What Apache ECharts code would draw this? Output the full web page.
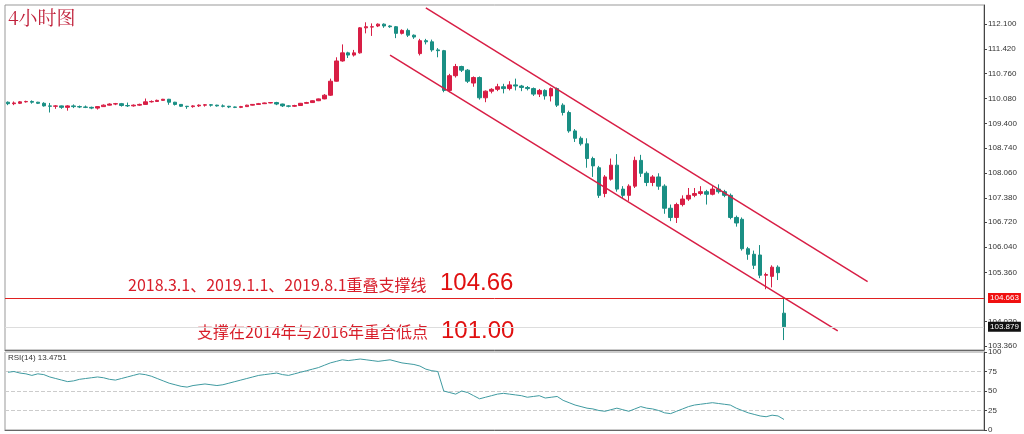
<!DOCTYPE html>
<html><head><meta charset="utf-8">
<script src="https://cdn.jsdelivr.net/npm/echarts@6/dist/echarts.min.js"></script>
<style>html,body{margin:0;padding:0;background:#fff}#c{width:1024px;height:434px}</style>
</head><body><div id="c"></div>
<script>
// candle data: [open, close, low, high]
const candles = [
[109.98,109.94,109.90,110.00],[109.94,109.96,109.90,110.00],[109.95,109.99,109.93,110.01],[109.99,110.00,109.97,110.02],
[110.00,109.98,109.94,110.03],[109.98,109.95,109.93,109.99],[109.95,109.88,109.86,109.98],[109.88,109.87,109.70,109.96],
[109.87,109.88,109.80,109.90],[109.88,109.84,109.80,109.89],[109.84,109.88,109.75,109.90],[109.88,109.86,109.82,109.92],
[109.86,109.85,109.82,109.89],[109.85,109.84,109.82,109.89],[109.84,109.82,109.79,109.86],[109.82,109.86,109.78,109.87],
[109.86,109.90,109.85,109.92],[109.90,109.93,109.89,109.95],[109.93,109.94,109.90,109.96],[109.94,109.89,109.86,109.96],
[109.89,109.88,109.85,109.97],[109.88,109.90,109.86,109.92],[109.90,109.92,109.88,109.94],[109.92,109.99,109.91,110.08],
[109.99,110.00,109.97,110.03],[110.00,110.03,109.99,110.05],[110.03,110.06,110.02,110.07],[110.06,109.98,109.91,110.07],
[109.98,109.92,109.89,109.99],[109.92,109.87,109.85,109.93],[109.87,109.86,109.80,109.88],[109.86,109.88,109.83,109.90],
[109.88,109.90,109.85,109.92],[109.90,109.91,109.86,109.93],[109.91,109.90,109.86,109.93],[109.90,109.88,109.86,109.91],
[109.88,109.87,109.84,109.92],[109.87,109.85,109.82,109.88],[109.85,109.84,109.82,109.86],[109.84,109.86,109.82,109.88],
[109.86,109.90,109.85,109.91],[109.90,109.92,109.89,109.93],[109.92,109.94,109.91,109.96],[109.94,109.96,109.93,109.97],
[109.96,109.97,109.95,109.98],[109.97,109.93,109.90,109.99],[109.93,109.88,109.85,109.94],[109.88,109.87,109.84,109.90],
[109.87,109.89,109.85,109.91],[109.89,109.95,109.88,109.96],[109.95,109.97,109.94,109.99],[109.97,110.02,109.96,110.03],
[110.02,110.07,110.01,110.08],[110.07,110.17,110.06,110.20],[110.17,110.55,110.15,110.62],[110.55,111.10,110.54,111.20],
[111.10,111.32,111.08,111.55],[111.32,111.26,111.18,111.35],[111.26,111.32,111.22,111.40],[111.32,112.00,111.30,112.02],
[112.00,112.03,111.85,112.15],[112.02,112.03,111.78,112.12],[112.05,112.10,112.02,112.12],[112.10,112.05,112.00,112.12],
[112.05,112.03,112.00,112.07],[112.03,111.85,111.72,112.05],[111.85,111.93,111.82,111.96],[111.93,111.80,111.75,111.98],
[111.80,111.75,111.70,111.82],[111.30,111.65,111.25,111.70],[111.65,111.62,111.55,111.70],[111.62,111.40,111.35,111.68],
[111.40,111.38,111.20,111.45],[111.38,110.30,110.25,111.40],[110.30,110.70,110.25,110.75],[110.70,110.95,110.65,111.02],
[110.95,110.85,110.80,110.97],[110.85,110.55,110.50,110.88],[110.50,110.65,110.40,110.68],[110.65,110.10,110.05,110.68],
[110.10,110.28,109.98,110.30],[110.28,110.33,110.22,110.36],[110.33,110.40,110.28,110.48],[110.40,110.35,110.22,110.48],
[110.35,110.45,110.30,110.55],[110.45,110.42,110.30,110.62],[110.42,110.38,110.28,110.45],[110.38,110.35,110.30,110.42],
[110.35,110.20,110.15,110.38],[110.20,110.30,110.12,110.34],[110.30,110.15,110.05,110.33],[110.15,110.35,110.00,110.38],
[110.35,109.90,109.85,110.38],[109.90,109.70,109.62,109.95],[109.70,109.20,109.15,109.75],[109.20,109.00,108.90,109.25],
[109.00,108.85,108.80,109.05],[108.85,108.45,108.20,109.00],[108.45,108.25,107.95,108.50],[108.20,107.45,107.38,108.25],
[107.50,107.95,107.40,108.00],[107.89,108.27,107.85,108.45],[108.27,107.62,107.55,108.57],[107.62,107.45,107.35,107.70],
[107.45,107.70,107.30,107.75],[107.70,108.40,107.65,108.50],[108.40,108.05,107.95,108.55],[108.05,107.80,107.70,108.10],
[107.80,107.95,107.70,108.00],[107.95,107.70,107.60,108.05],[107.70,107.10,106.95,107.75],[107.10,106.85,106.75,107.20],
[106.85,107.20,106.70,107.25],[107.20,107.35,107.15,107.45],[107.35,107.45,107.30,107.65],[107.45,107.50,107.40,107.65],
[107.50,107.55,107.45,107.70],[107.55,107.48,107.20,107.60],[107.48,107.62,107.45,107.70],[107.62,107.55,107.50,107.75],
[107.55,107.45,107.40,107.60],[107.45,106.85,106.80,107.50],[106.85,106.70,106.60,106.90],[106.80,106.00,105.95,106.85],
[106.00,105.85,105.70,106.05],[105.85,105.55,105.45,105.95],[105.83,105.28,105.20,106.10],[105.28,105.30,104.90,105.35],
[105.25,105.50,104.95,105.55],[105.50,105.35,105.15,105.55],[104.25,103.88,103.52,104.66]
];
const rsi = [
74,75,73,72,70,72,71,68,66,64,62,63,65,66,67,68,67,65,64,66,
68,70,72,71,69,66,63,60,58,56,55,57,58,59,58,57,58,60,62,64,
66,68,70,71,72,73,71,70,72,74,76,78,80,83,86,
88,90,89,90,91,90,89,88,89,90,88,86,85,84,82,78,76,75,
50,48,46,50,48,44,40,42,44,46,47,46,45,44,42,43,44,41,42,43,
38,35,32,30,28,27,25,24,26,28,26,24,27,30,28,27,25,22,
21,24,27,30,32,33,34,35,34,33,32,28,25,22,20,18,17,19,18,
13.5
];
const priceTicks = [112.1,111.42,110.76,110.08,109.4,108.74,108.06,107.38,106.72,106.04,105.36,104.02,103.36];
const rsiTicks = [0,25,50,75,100];
const supportLevel = 104.663, lastPrice = 103.879;
const upperChannel = [[70,112.54],[144,105.11]];
const lowerChannel = [[64,111.26],[139,103.77]];
const nCat = 164;
const cats = Array.from({length:nCat},(_,i)=>String(i));
const RED='#d81e45', TEAL='#1a8f84';
const chart = echarts.init(document.getElementById('c'));
chart.setOption({
  animation:false,
  grid:[{left:5,right:40,top:5,height:345,show:true,borderColor:'#999',borderWidth:1},
        {left:5,right:40,top:352,height:79,show:true,borderColor:'#999',borderWidth:1}],
  xAxis:[{type:'category',data:cats,gridIndex:0,axisLabel:{show:false},axisTick:{show:false},axisLine:{lineStyle:{color:'#666'}}},
         {type:'category',data:cats,gridIndex:1,axisLabel:{show:false},axisTick:{show:false},axisLine:{lineStyle:{color:'#666'}}}],
  yAxis:[{type:'value',gridIndex:0,position:'right',min:103.25,max:112.62,splitLine:{show:false},
          axisLine:{show:true,lineStyle:{color:'#444'}},
          axisTick:{show:true,customValues:priceTicks,length:3},
          axisLabel:{customValues:priceTicks,formatter:v=>v.toFixed(3),fontSize:8,color:'#333',margin:4,fontFamily:'Arial'}},
         {type:'value',gridIndex:1,position:'right',min:0,max:100,
          axisLine:{show:true,lineStyle:{color:'#444'}},
          axisTick:{show:true,customValues:rsiTicks,length:3},
          splitLine:{show:true,lineStyle:{type:'dashed',color:'#ccc'}},
          axisLabel:{customValues:rsiTicks,fontSize:8,color:'#333',margin:4,fontFamily:'Arial'}}],
  series:[
   {type:'candlestick',xAxisIndex:0,yAxisIndex:0,data:candles,barWidth:4,
    itemStyle:{color:RED,color0:TEAL,borderColor:RED,borderColor0:TEAL},
    markLine:{symbol:'none',silent:true,animation:false,
      data:[
        [{coord:upperChannel[0],lineStyle:{color:RED,width:1.5,type:'solid'},label:{show:false}},{coord:upperChannel[1]}],
        [{coord:lowerChannel[0],lineStyle:{color:RED,width:1.5,type:'solid'},label:{show:false}},{coord:lowerChannel[1]}],
        {yAxis:supportLevel,lineStyle:{color:'#e02020',width:1,type:'solid'},
         label:{show:true,position:'end',formatter:supportLevel.toFixed(3),backgroundColor:'#f01010',color:'#fff',fontSize:8,padding:[1,2],distance:4}},
        {yAxis:lastPrice,lineStyle:{color:'#ddd',width:1,type:'solid'},
         label:{show:true,position:'end',formatter:lastPrice.toFixed(3),backgroundColor:'#111',color:'#fff',fontSize:8,padding:[1,2],distance:4}}
      ]}},
   {type:'line',xAxisIndex:1,yAxisIndex:1,data:rsi,symbol:'none',lineStyle:{color:'#3f9aa0',width:1}}
  ],
  graphic:[
   {type:'text',left:8,top:8,style:{text:'4小时图',fill:'#c0203a',fontSize:19,fontFamily:'Noto Serif CJK SC, serif'}},
   {type:'text',left:128,top:277,style:{text:'2018.3.1、2019.1.1、2019.8.1重叠支撑线',fill:'#d81e2a',fontSize:16,fontFamily:'Noto Sans CJK SC'}},
   {type:'text',left:440,top:271,style:{text:'104.66',fill:'#e01010',fontSize:24,fontFamily:'Arial'}},
   {type:'text',left:197,top:324,style:{text:'支撑在2014年与2016年重合低点',fill:'#d81e2a',fontSize:16,fontFamily:'Noto Sans CJK SC'}},
   {type:'text',left:441,top:319,style:{text:'101.00',fill:'#e01010',fontSize:24,fontFamily:'Arial'}},
   {type:'text',left:8,top:354,style:{text:'RSI(14) 13.4751',fill:'#333',fontSize:8,fontFamily:'Arial'}}
  ]
});
</script></body></html>
